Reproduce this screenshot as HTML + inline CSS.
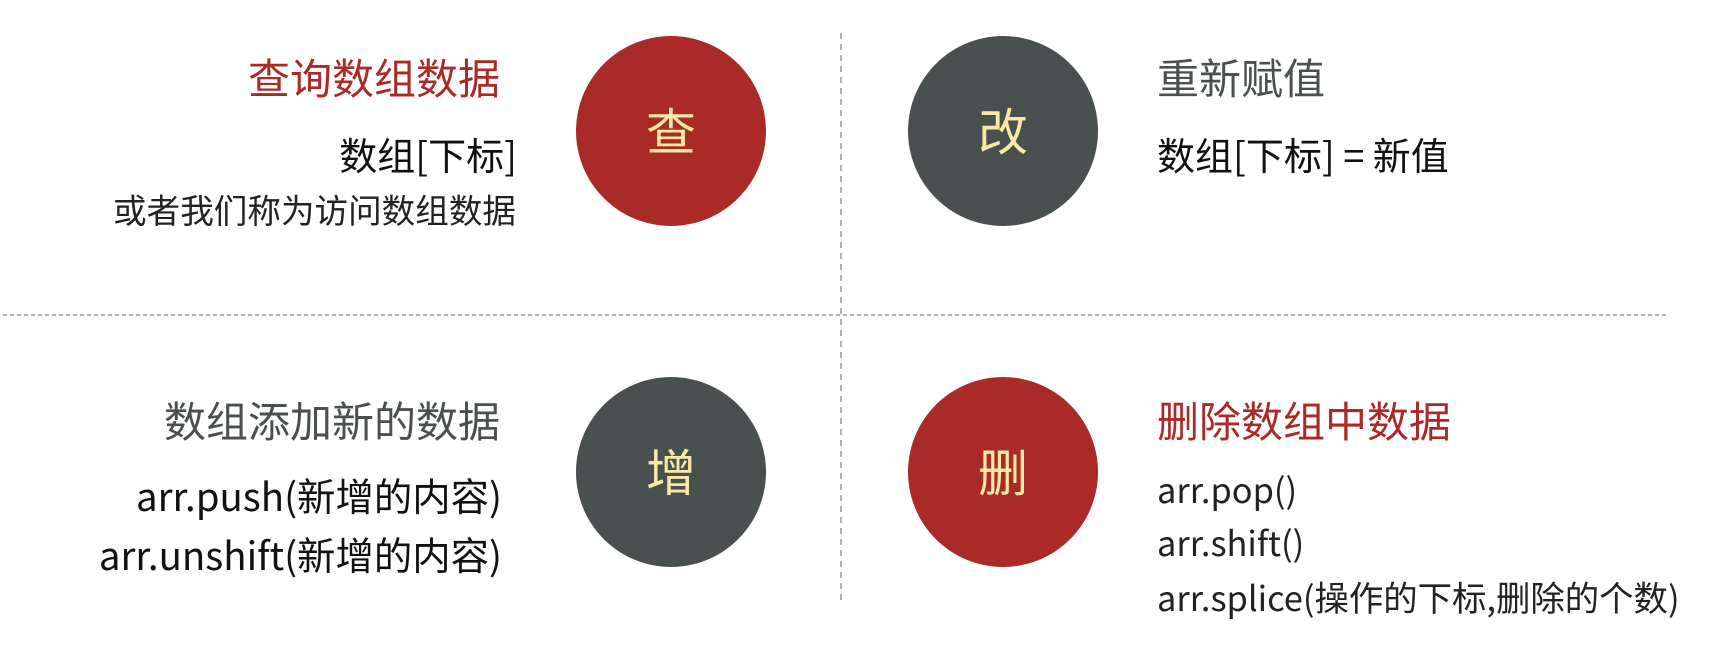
<!DOCTYPE html>
<html><head><meta charset="utf-8"><style>
html,body{margin:0;padding:0;background:#fff;}
svg{display:block;font-family:"Liberation Sans","Noto Sans CJK SC",sans-serif;}
</style></head><body>
<svg width="1711" height="664" viewBox="0 0 1711 664">
<line x1="841" y1="33" x2="841" y2="604" stroke="#999" stroke-width="1.5" stroke-dasharray="6,5"/>
<line x1="3" y1="315" x2="1667" y2="315" stroke="#999" stroke-width="1.5" stroke-dasharray="4,3"/>

<g>
<circle cx="671" cy="131" r="95" fill="#aa2a27"/>
<text x="671" y="150" text-anchor="middle" font-size="50" fill="#f8eaa6" font-family="Noto Sans CJK SC, sans-serif">查</text>
</g>
<g>
<circle cx="1003" cy="131" r="95" fill="#4a4f4f"/>
<text x="1003" y="150" text-anchor="middle" font-size="50" fill="#f8eaa6" font-family="Noto Sans CJK SC, sans-serif">改</text>
</g>
<g>
<circle cx="671" cy="472" r="95" fill="#4a4f4f"/>
<text x="671" y="491" text-anchor="middle" font-size="50" fill="#f8eaa6" font-family="Noto Sans CJK SC, sans-serif">增</text>
</g>
<g>
<circle cx="1003" cy="472" r="95" fill="#aa2a27"/>
<text x="1003" y="491" text-anchor="middle" font-size="50" fill="#f8eaa6" font-family="Noto Sans CJK SC, sans-serif">删</text>
</g>

<g text-anchor="end" font-family="Noto Sans CJK SC, sans-serif">
<text x="500" y="94" font-size="42" fill="#aa2a27">查询数组数据</text>
<text x="517" y="170" font-size="38" fill="#111">数组[下标]</text>
<text x="516" y="223" font-size="33.6" fill="#222">或者我们称为访问数组数据</text>
<text x="500" y="437" font-size="42" fill="#4a4f4f">数组添加新的数据</text>
<text x="502" y="511" font-size="38.4" fill="#111">arr.push(新增的内容)</text>
<text x="502" y="570" font-size="38.4" fill="#111">arr.unshift(新增的内容)</text>
</g>
<g font-family="Noto Sans CJK SC, sans-serif">
<text x="1157" y="94" font-size="42" fill="#4a4f4f">重新赋值</text>
<text x="1157" y="170" font-size="38" fill="#111">数组[下标] = 新值</text>
<text x="1157" y="437" font-size="42" fill="#aa2a27">删除数组中数据</text>
<text x="1157" y="503" font-size="34.4" fill="#222">arr.pop()</text>
<text x="1157" y="556" font-size="34.4" fill="#222">arr.shift()</text>
<text x="1157" y="611" font-size="34.4" fill="#222">arr.splice(操作的下标,删除的个数)</text>
</g>
</svg>
</body></html>
